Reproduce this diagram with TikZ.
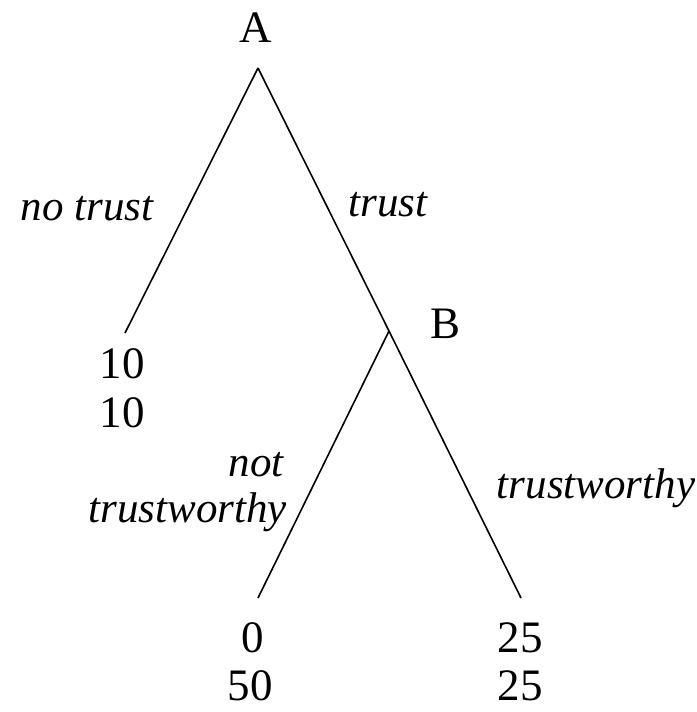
\documentclass[tikz,border=0pt]{standalone}
\usepackage{fontspec}
\setmainfont{Liberation Serif}
\begin{document}
\begin{tikzpicture}[x=1pt,y=-1pt,
  txt/.style={inner sep=0pt, anchor=base, font=\fontsize{45}{49}\selectfont},
  lbl/.style={inner sep=0pt, anchor=base, font=\fontsize{43}{48}\selectfont\itshape},
  edge/.style={line width=1.6pt}]
\useasboundingbox (0,0) rectangle (696,712);
% decision points and ends
\coordinate (a) at (258,68);
\coordinate (b) at (389,331);
\coordinate (l1) at (125,333);
\coordinate (l2) at (258,598);
\coordinate (l3) at (521,598);
% edges
\draw[edge] (a) -- (l1);
\draw[edge] (a) -- (b);
\draw[edge] (b) -- (l2);
\draw[edge] (b) -- (l3);
% player labels
\node[txt] (A) at (256,42) {A};
\node[txt] (B) at (446,338) {B};
% action labels
\node[lbl] (nt) at (87,220) {no trust};
\node[lbl] (t) at (388,216) {trust};
\node[lbl] (ntw1) at (256,476) {not};
\node[lbl, anchor=base east] (ntw2) at (287,522) {trustworthy};
\node[lbl] (tw) at (596,498) {trustworthy};
% payoffs
\node[txt] (p1a) at (122,378) {10};
\node[txt] (p1b) at (122,427) {10};
\node[txt] (p2a) at (253,652) {0};
\node[txt] (p2b) at (250,700) {50};
\node[txt] (p3a) at (520,652) {25};
\node[txt] (p3b) at (520,700) {25};
\end{tikzpicture}
\end{document}
